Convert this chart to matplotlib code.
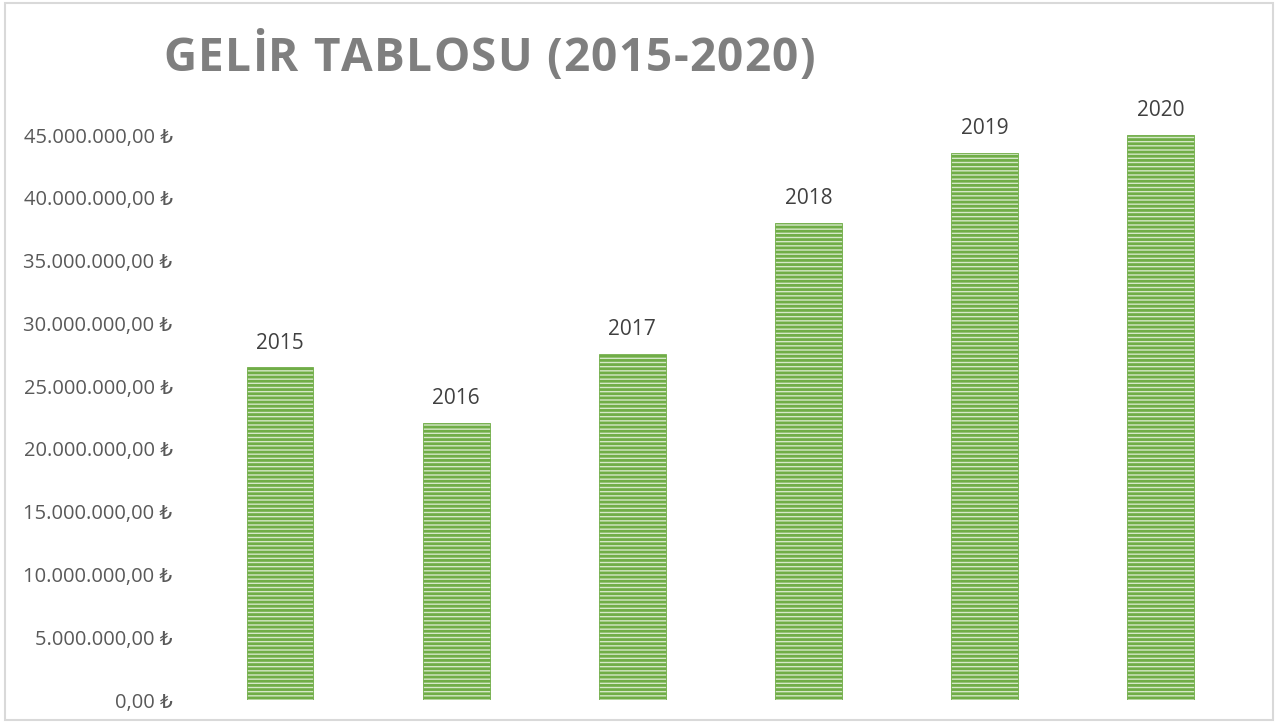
"""Gelir tablosu bar chart (2015-2020)."""

import matplotlib

matplotlib.use("Agg")
import matplotlib.pyplot as plt
from matplotlib.patches import Rectangle
from matplotlib.ticker import FuncFormatter

# Data
years = ["2015", "2016", "2017", "2018", "2019", "2020"]
revenue = [26_500_000, 22_050_000, 27_600_000, 38_000_000, 43_600_000, 45_000_000]
title = "GELİR TABLOSU (2015-2020)"

plt.rcParams["font.family"] = ["Open Sans", "DejaVu Sans"]
plt.rcParams["hatch.linewidth"] = 2.0
plt.rcParams["hatch.color"] = "#70AD47"


def tl_format(value, _pos=None):
    """Format like Excel's Turkish currency: 45.000.000,00 ₺"""
    text = f"{value:,.2f}".replace(",", "X").replace(".", ",").replace("X", ".")
    return f"{text} ₺"


def spaced_title(fig, text, x0, x1, y, **kw):
    """Draw text with letter spacing so it spans x0..x1 (pixels)."""
    renderer = fig.canvas.get_renderer()
    widths = []
    for ch in text:
        t = fig.text(0, 0, ch, **kw)
        widths.append(t.get_window_extent(renderer).width)
        t.remove()
    gap = (x1 - x0 - sum(widths)) / (len(text) - 1)
    xpos = x0
    for ch, w in zip(text, widths):
        fig.text(xpos, y, ch, transform=None, ha="left", va="baseline", **kw)
        xpos += w + gap


fig = plt.figure(figsize=(12.78, 7.23), dpi=100)
ax = fig.add_axes([0.1502, 0.0318, 0.827, 0.8437])

x = range(len(years))
bars = ax.bar(
    x,
    revenue,
    width=0.38,
    color="#D5E8C8",
    edgecolor="#70AD47",
    linewidth=0.6,
    hatch="----",
)

ax.bar_label(bars, labels=years, padding=10, fontsize=15, color="#404040")

ax.set_xlim(-0.5, len(years) - 0.5)
ax.set_ylim(0, 48_600_000)
ax.set_yticks([i * 5_000_000 for i in range(10)])
ax.yaxis.set_major_formatter(FuncFormatter(tl_format))
ax.tick_params(axis="y", length=0, pad=14, labelsize=14.5, labelcolor="#595959")
ax.set_xticks([])
for spine in ax.spines.values():
    spine.set_visible(False)

spaced_title(
    fig,
    title,
    163,
    815,
    723 - 71,
    fontsize=33,
    fontweight="bold",
    color="#7F7F7F",
)

# Light grey chart border, like the Excel chart area
fig.patches.append(
    Rectangle(
        (0.004, 0.004),
        0.992,
        0.992,
        transform=fig.transFigure,
        fill=False,
        edgecolor="#D9D9D9",
        linewidth=1.5,
    )
)

plt.savefig("out.png", dpi=100)
plt.close()
